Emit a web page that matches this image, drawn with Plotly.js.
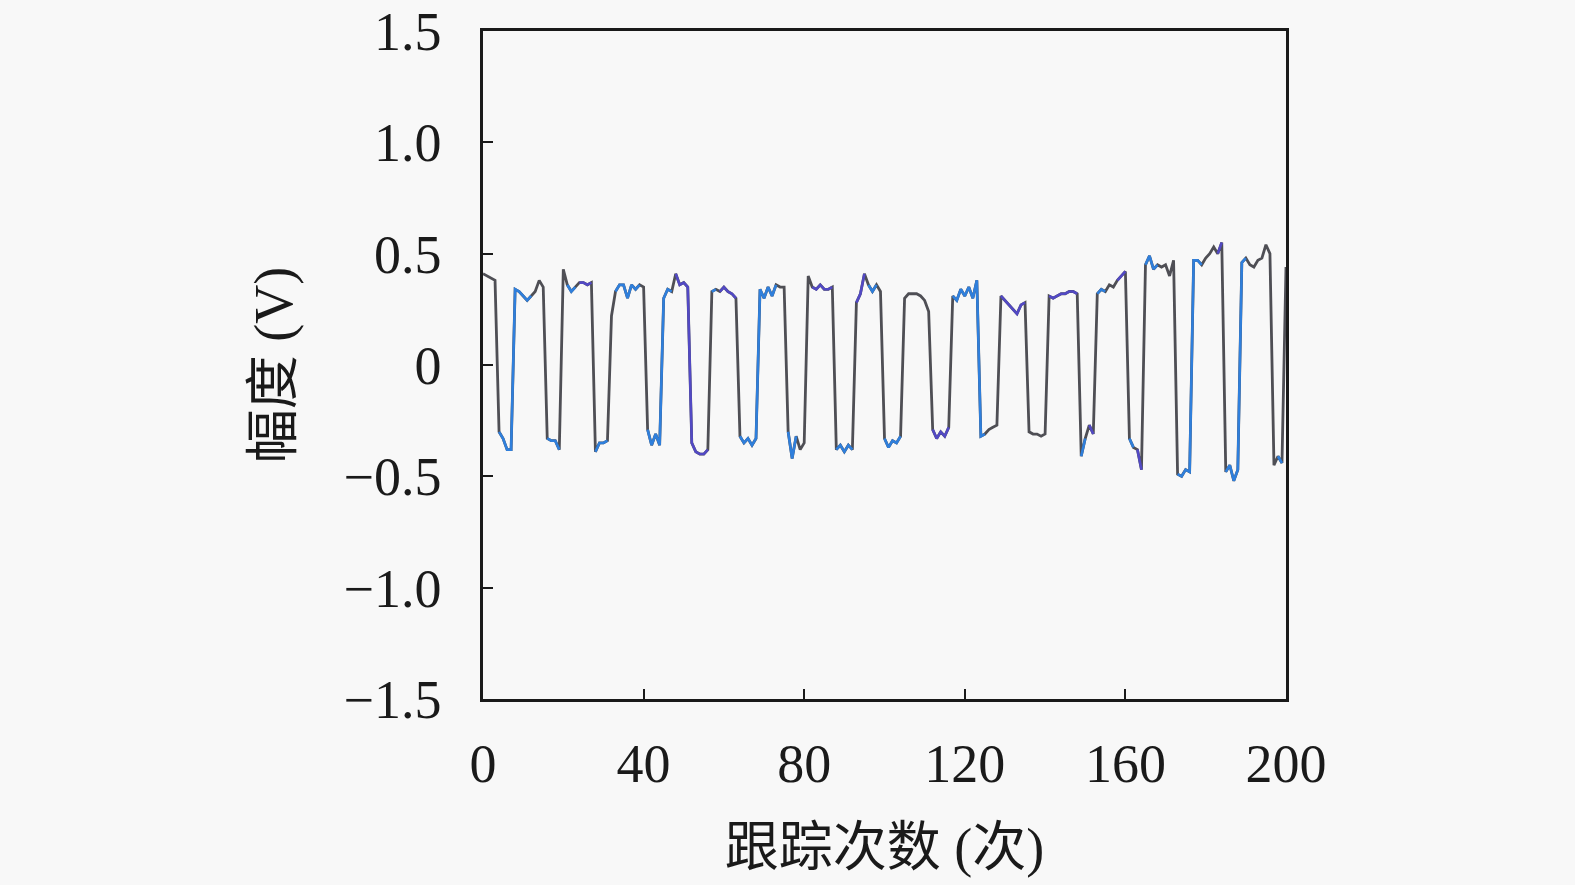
<!DOCTYPE html>
<html>
<head>
<meta charset="utf-8">
<script src="https://cdn.plot.ly/plotly-3.0.1.min.js"></script>
<style>
  html, body { margin: 0; padding: 0; background: #f8f8f8; }
  #plota { width: 1575px; height: 885px; }
</style>
</head>
<body>
<div id="plota"></div>
<script>
// amplitude (V) read for every tracking step 0..200
var amplitude = [
    0.41, 0.40, 0.39, 0.38, -0.30, -0.33, -0.38, -0.38, 0.34, 0.33,
    0.31, 0.29, 0.31, 0.33, 0.38, 0.35, -0.33, -0.34, -0.34, -0.38,
    0.43, 0.36, 0.33, 0.35, 0.37, 0.37, 0.36, 0.37, -0.39, -0.35,
    -0.35, -0.34, 0.22, 0.33, 0.36, 0.36, 0.30, 0.36, 0.34, 0.36,
    0.35, -0.29, -0.36, -0.31, -0.36, 0.30, 0.34, 0.33, 0.41, 0.36,
    0.37, 0.35, -0.35, -0.39, -0.40, -0.40, -0.38, 0.33, 0.34, 0.33,
    0.35, 0.33, 0.32, 0.30, -0.32, -0.35, -0.33, -0.36, -0.33, 0.34,
    0.30, 0.35, 0.31, 0.36, 0.35, 0.35, -0.30, -0.42, -0.32, -0.38,
    -0.35, 0.40, 0.35, 0.34, 0.36, 0.34, 0.34, 0.35, -0.38, -0.36,
    -0.39, -0.36, -0.38, 0.28, 0.32, 0.41, 0.36, 0.33, 0.36, 0.33,
    -0.33, -0.37, -0.34, -0.35, -0.32, 0.30, 0.32, 0.32, 0.32, 0.31,
    0.29, 0.24, -0.29, -0.33, -0.30, -0.32, -0.28, 0.31, 0.29, 0.34,
    0.31, 0.35, 0.30, 0.38, -0.32, -0.31, -0.29, -0.28, -0.27, 0.31,
    0.29, 0.27, 0.25, 0.23, 0.27, 0.28, -0.30, -0.31, -0.31, -0.32,
    -0.31, 0.31, 0.30, 0.31, 0.32, 0.32, 0.33, 0.33, 0.32, -0.41,
    -0.33, -0.27, -0.31, 0.32, 0.34, 0.33, 0.36, 0.35, 0.38, 0.40,
    0.42, -0.33, -0.37, -0.38, -0.47, 0.45, 0.49, 0.43, 0.45, 0.44,
    0.45, 0.40, 0.47, -0.49, -0.50, -0.47, -0.48, 0.47, 0.47, 0.45,
    0.48, 0.50, 0.53, 0.50, 0.55, -0.48, -0.45, -0.52, -0.47, 0.46,
    0.48, 0.45, 0.44, 0.47, 0.48, 0.54, 0.50, -0.45, -0.41, -0.44,
    0.44
];

// steps where the trace shows blue / purple instead of grey (first, last)
var blueRuns = [[4, 7], [8, 12], [16, 19], [21, 23], [28, 31], [33, 39], [41, 44],
    [45, 47], [64, 68], [57, 58], [69, 73], [76, 78], [81, 81], [88, 92], [96, 98],
    [100, 104], [117, 123], [124, 125], [149, 150], [153, 155], [161, 162],
    [165, 168], [173, 176], [177, 179], [185, 188], [189, 190], [198, 199]];
var purpleRuns = [[20, 20], [24, 27], [48, 51], [52, 56], [59, 63], [82, 87],
    [93, 95], [112, 116], [129, 135], [141, 148], [151, 152], [158, 160],
    [163, 164], [183, 184], [197, 197]];

var xTicks = [0, 40, 80, 120, 160, 200];
var yTicks = [-1.5, -1.0, -0.5, 0, 0.5, 1.0, 1.5];
var yTickText = ['\u22121.5', '\u22121.0', '\u22120.5', '0', '0.5', '1.0', '1.5'];

var steps = amplitude.map(function (v, i) { return i; });

function pick(runs) {
    var y = amplitude.map(function () { return null; });
    runs.forEach(function (r) {
        for (var i = r[0]; i <= r[1]; i++) y[i] = amplitude[i];
    });
    return y;
}

var grey = {
    x: steps, y: amplitude, type: 'scatter', mode: 'lines',
    line: {color: '#4f4f55', width: 2.8}, hoverinfo: 'skip'
};
var blue = {
    x: steps, y: pick(blueRuns), type: 'scatter', mode: 'lines',
    connectgaps: false, line: {color: '#2f7fdc', width: 2.6}
};
var purple = {
    x: steps, y: pick(purpleRuns), type: 'scatter', mode: 'lines',
    connectgaps: false, line: {color: '#5249c4', width: 2.6}
};

var tickFont = {family: 'Liberation Serif, DejaVu Serif, serif', size: 54, color: '#1a1a1a'};
var titleFont = {family: 'Liberation Serif, Noto Sans CJK SC, serif', size: 54, color: '#1a1a1a'};

var layout = {
    width: 1575, height: 885,
    margin: {l: 483, r: 289, t: 31, b: 186},
    paper_bgcolor: '#f8f8f8', plot_bgcolor: '#f8f8f8',
    showlegend: false,
    xaxis: {
        range: [0, 200], tickvals: xTicks, ticks: 'inside', ticklen: 10, tickwidth: 2,
        tickcolor: '#1a1a1a', showline: true, mirror: true, linewidth: 2.5, linecolor: '#1a1a1a',
        showgrid: false, zeroline: false, tickfont: tickFont, ticklabelstandoff: 15,
        title: {text: '跟踪次数 (次)', font: titleFont, standoff: 36}
    },
    yaxis: {
        range: [-1.5, 1.5], tickvals: yTicks, ticktext: yTickText, ticks: 'inside', ticklen: 10,
        tickwidth: 2, tickcolor: '#1a1a1a', showline: true, mirror: true, linewidth: 2.5,
        linecolor: '#1a1a1a', showgrid: false, zeroline: false, tickfont: tickFont,
        ticklabelstandoff: 28,
        title: {text: '幅度 (V)', font: titleFont, standoff: 34}
    }
};

Plotly.newPlot('plota', [grey, blue, purple], layout, {displayModeBar: false});
</script>
</body>
</html>
